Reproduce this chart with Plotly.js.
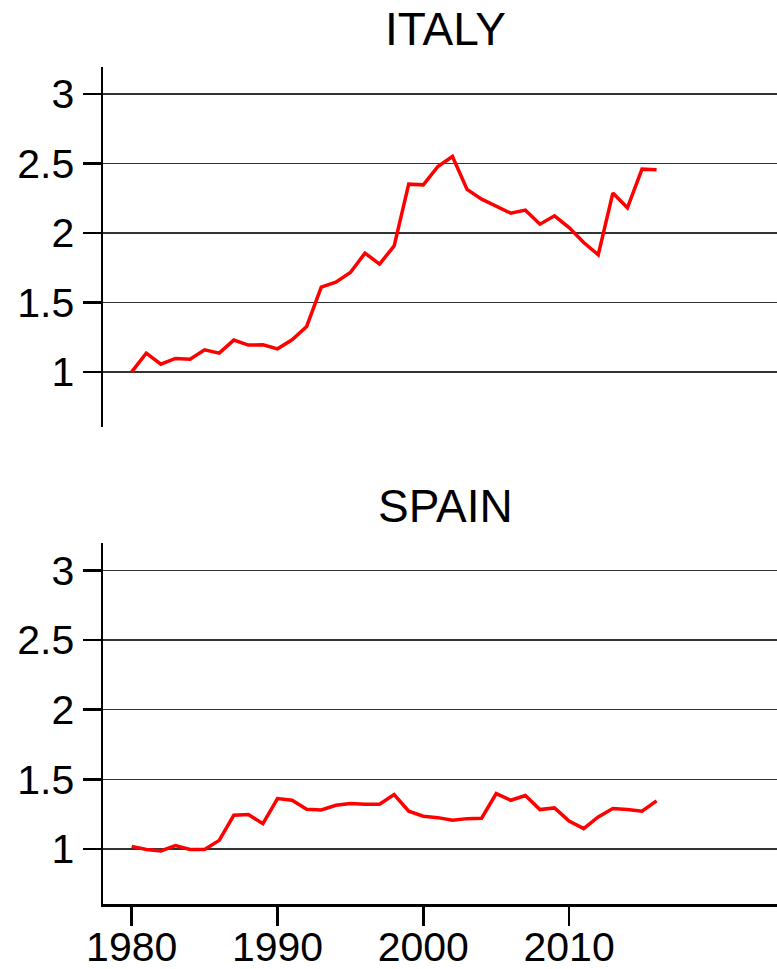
<!DOCTYPE html>
<html>
<head>
<meta charset="utf-8">
<script src="https://cdn.plot.ly/plotly-3.0.1.min.js"></script>
<style>html,body{margin:0;padding:0;background:#fff;}</style>
</head>
<body>
<div id="chart" style="width:777px;height:969px;"></div>
<script>
const years = [1980,1981,1982,1983,1984,1985,1986,1987,1988,1989,1990,1991,1992,1993,1994,1995,1996,1997,1998,1999,2000,2001,2002,2003,2004,2005,2006,2007,2008,2009,2010,2011,2012,2013,2014,2015,2016];
const italy = [1.00,1.134,1.055,1.096,1.091,1.158,1.134,1.228,1.192,1.194,1.165,1.230,1.326,1.609,1.645,1.714,1.854,1.775,1.906,2.350,2.345,2.477,2.549,2.312,2.242,2.189,2.141,2.163,2.062,2.122,2.038,1.930,1.842,2.286,2.180,2.458,2.453];
const spain = [1.019,0.996,0.986,1.024,0.996,0.996,1.062,1.242,1.247,1.182,1.362,1.350,1.285,1.280,1.314,1.326,1.321,1.321,1.391,1.271,1.235,1.225,1.206,1.218,1.221,1.398,1.350,1.384,1.283,1.295,1.201,1.146,1.230,1.290,1.283,1.271,1.345];
const panelTitles = ["ITALY","SPAIN"];
const xTicks = [1980,1990,2000,2010];
const yTicks = [1,1.5,2,2.5,3];
const yTickText = ["1","1.5","2","2.5","3"];

const W = 777, H = 969;
const font = {family: "Liberation Sans, Arial, sans-serif", color: "#000"};
const lineStyle = {color: "#ff0000", width: 3.5};

const traces = [
  {x: years, y: italy, type: "scatter", mode: "lines", line: lineStyle, xaxis: "x", yaxis: "y", hoverinfo: "skip"},
  {x: years, y: spain, type: "scatter", mode: "lines", line: lineStyle, xaxis: "x2", yaxis: "y2", hoverinfo: "skip"}
];

const yCommon = {
  range: [0.605, 3.195], tickvals: yTicks, ticktext: yTickText,
  showline: true, linecolor: "#000", linewidth: 2.5,
  ticks: "outside", ticklen: 18, tickwidth: 2.5, tickcolor: "#000",
  showgrid: true, gridcolor: "#333", gridwidth: 1.5,
  zeroline: false, tickfont: {family: font.family, size: 41, color: "#000"},
  fixedrange: true
};
const xRange = [1978.03, 2024.26];

const layout = {
  width: W, height: H,
  margin: {l: 103, r: 0, t: 0, b: 0},
  paper_bgcolor: "#fff", plot_bgcolor: "#fff",
  showlegend: false,
  font: font,
  xaxis: {domain: [0,1], range: xRange, anchor: "y", visible: false, fixedrange: true},
  yaxis: Object.assign({}, yCommon, {domain: [1 - 426.7/H, 1 - 66.7/H], anchor: "x"}),
  xaxis2: {domain: [0,1], range: xRange, anchor: "y2",
    tickvals: xTicks, ticktext: xTicks.map(String),
    showline: true, linecolor: "#000", linewidth: 2.5,
    ticks: "outside", ticklen: 19, tickwidth: 2.5, tickcolor: "#000",
    ticklabelstandoff: -14,
    showgrid: false, zeroline: false,
    tickfont: {family: font.family, size: 41, color: "#000"}, fixedrange: true},
  yaxis2: Object.assign({}, yCommon, {domain: [1 - 904/H, 1 - 543.3/H], anchor: "x2"}),
  annotations: [
    {text: panelTitles[0], xref: "paper", yref: "paper", x: (445.5-103)/674, y: 1 - 29.2/H,
     xanchor: "center", yanchor: "middle", showarrow: false, font: {family: font.family, size: 46, color: "#000"}},
    {text: panelTitles[1], xref: "paper", yref: "paper", x: (445.5-103)/674, y: 1 - 505.8/H,
     xanchor: "center", yanchor: "middle", showarrow: false, font: {family: font.family, size: 46, color: "#000"}}
  ]
};

Plotly.newPlot("chart", traces, layout, {displayModeBar: false, staticPlot: true});
</script>
</body>
</html>
